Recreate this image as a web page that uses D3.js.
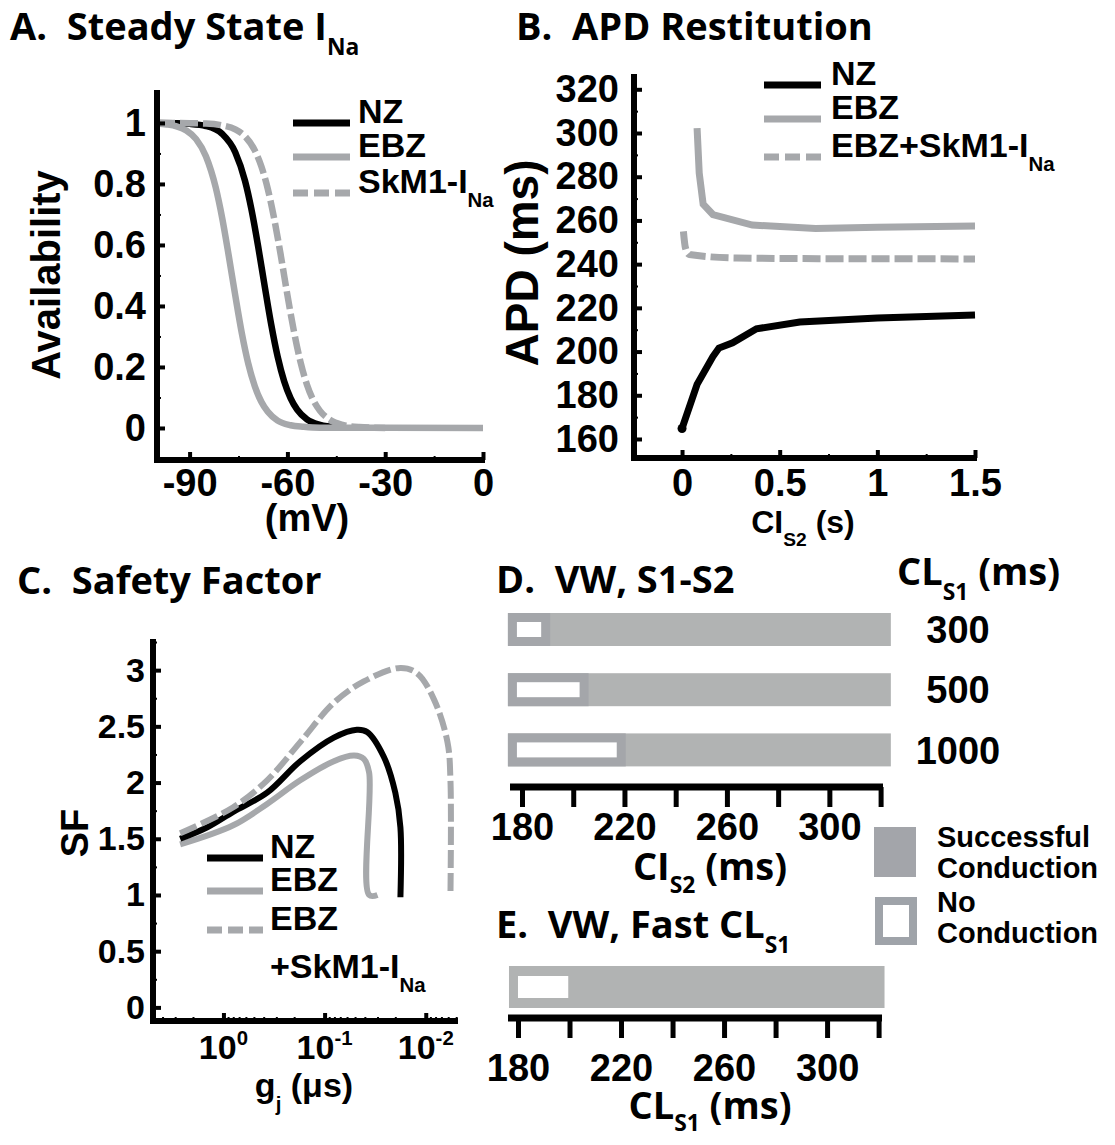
<!DOCTYPE html>
<html>
<head>
<meta charset="utf-8">
<title>SkM1-INa figure</title>
<style>
  body { margin: 0; background: #fff; }
  svg text { font-family: "Liberation Sans", Arial, sans-serif; font-weight: bold; fill: #000; }
  svg text.ttl { font-family: "Open Sans", Lato, sans-serif; font-weight: 700; white-space: pre; }
  .axis path.domain { display: none; }
  .axis line { stroke: #000; }
</style>
</head>
<body>
<svg width="1115" height="1145"></svg>
<script src="https://d3js.org/d3.v7.min.js"></script>
<script>
// ---- A. steady state I_Na availability (mV -> fraction available)
var vNZ = [-100, -95, -90, -85, -80, -76, -73, -71, -69, -67, -65, -63, -61, -59, -57, -54, -50, -45];
var availNZ = [1.0, 0.999, 0.997, 0.99, 0.964, 0.904, 0.81, 0.715, 0.597, 0.467, 0.341, 0.234, 0.153, 0.097, 0.06, 0.028, 0.01, 0.002];
var vEBZ = [-100, -97, -94, -91, -88, -85, -82, -80, -78, -76, -74, -72, -70, -68, -66, -63, -59, -55, -50, 0];
var availEBZ = [0.998, 0.995, 0.989, 0.975, 0.947, 0.891, 0.789, 0.688, 0.565, 0.435, 0.312, 0.211, 0.137, 0.086, 0.053, 0.024, 0.009, 0.004, 0.001, 0];
var vSkM = [-100, -90, -85, -80, -76, -73, -70, -68, -66, -64, -62, -60, -58, -56, -54, -52, -50, -47, -43, -38, -30];
var availSkM = [1.0, 0.999, 0.998, 0.992, 0.979, 0.956, 0.91, 0.858, 0.783, 0.683, 0.564, 0.436, 0.317, 0.217, 0.142, 0.09, 0.056, 0.027, 0.01, 0.003, 0];
var ticksAx = [-90, -60, -30, 0];
var ticksAy = [0, 0.2, 0.4, 0.6, 0.8, 1];

// ---- B. APD restitution (CI_S2 in s -> APD in ms)
var ciNZ = [0, 0.077, 0.158, 0.189, 0.259, 0.381, 0.603, 1.0, 1.5];
var apdNZ = [164.8, 185, 197.7, 201.6, 204, 210.4, 213.5, 215.4, 216.7];
var ciEBZ = [0.077, 0.088, 0.108, 0.158, 0.36, 0.684, 1.0, 1.5];
var apdEBZ = [302.2, 281.6, 267.4, 262.7, 257.9, 256.3, 256.9, 257.4];
var ciSkM = [0.007, 0.017, 0.037, 0.28, 0.7, 1.5];
var apdSkM = [255, 247.6, 244.4, 242.8, 242.5, 242.4];
var ticksBx = [0, 0.5, 1, 1.5];
var ticksBy = [160, 180, 200, 220, 240, 260, 280, 300, 320];

// ---- C. safety factor vs gap junction conductance (uS)
var gjNZ = [2.68, 1.46, 0.80, 0.37, 0.174, 0.081, 0.048, 0.038, 0.026, 0.020, 0.0178, 0.0178];
var sfNZ = [1.50, 1.60, 1.74, 1.91, 2.19, 2.40, 2.47, 2.45, 2.23, 1.91, 1.60, 0.98];
var gjEBZ = [2.68, 0.80, 0.37, 0.174, 0.081, 0.051, 0.041, 0.0363, 0.0363, 0.030];
var sfEBZ = [1.45, 1.62, 1.81, 2.02, 2.19, 2.24, 2.21, 2.09, 1.0, 1.0];
var gjSkM = [2.68, 0.80, 0.37, 0.174, 0.081, 0.041, 0.0178, 0.0121, 0.0083, 0.0061, 0.0057, 0.0057];
var sfSkM = [1.55, 1.78, 2.02, 2.36, 2.71, 2.90, 3.02, 2.97, 2.74, 2.36, 2.02, 1.0];
var ticksCx = [1, 0.1, 0.01];
var expCx = ["0", "-1", "-2"];
var ticksCy = [0, 0.5, 1, 1.5, 2, 2.5, 3];

// ---- D. VW S1-S2 (CI_S2 ms), E. fast pacing (CL_S1 ms)
var clS1 = ["300", "500", "1000"];
var ciS2Range = [174.5, 324];
var noCondEndD = [191, 206, 220.5];
var clFastRange = [176.5, 322.3];
var noCondEndE = [203];
var ticksDE = [180, 200, 220, 240, 260, 280, 300, 320];
var labelsDE = [180, 220, 260, 300];

var svg = d3.select("svg");
var GRAY = "#a6a8ab", DASH = "18,5", LDASH = "15,6";

function label(g, x, y, parts, size, cls, subk) {
  var t = g.append("text").attr("x", x).attr("y", y).style("font-size", size + "px");
  if (cls) t.attr("class", cls);
  var shift = 0;
  parts.forEach(function(p) {
    var want = p[1] === "sub" ? size * (subk || 0.4) : p[1] === "sup" ? -size * 0.42 : 0;
    var s = t.append("tspan").text(p[0]).attr("dy", want - shift);
    shift = want;
    if (p[1]) s.style("font-size", (size * 0.6) + "px");
  });
  return t;
}

function frame(g, x0, y0, y1, x1) {
  g.append("path").attr("d", "M" + x0 + "," + y0 + "V" + y1 + "H" + x1)
    .attr("fill", "none").attr("stroke", "#000").attr("stroke-width", 6)
    .attr("stroke-linejoin", "miter");
}

function series(g, xs, ys, x, y, color, dash, curve, w) {
  var pts = xs.map(function(d, i) { return [d, ys[i]]; });
  g.append("path").datum(pts)
    .attr("fill", "none").attr("stroke", color).attr("stroke-width", w || 6.5)
    .attr("stroke-dasharray", dash || null)
    .attr("d", d3.line().x(function(d) { return x(d[0]); }).y(function(d) { return y(d[1]); }).curve(curve));
}

function legend(g, x0, x1, tx, rows, size) {
  rows.forEach(function(r) {
    g.append("line").attr("x1", x0).attr("x2", x1).attr("y1", r.y).attr("y2", r.y)
      .attr("stroke", r.color).attr("stroke-width", 7).attr("stroke-dasharray", r.dash || null);
    label(g, tx, r.y, r.text, size).attr("dy", "0.35em");
  });
}

function ticks(g, axis, tr, w) {
  g.append("g").attr("class", "axis").attr("transform", tr).call(axis)
    .selectAll("line").attr("stroke-width", w);
}

// ================= A =================
var xA = d3.scaleLinear().domain([-100, 0]).range([157, 483]);
var yA = d3.scaleLinear().domain([-0.105, 1.108]).range([460, 90]);
var gA = svg.append("g");
label(gA, 10, 40, [["A.  Steady State I"], ["Na", "sub"]], 38, "ttl");
series(gA, vNZ, availNZ, xA, yA, "#000", null, d3.curveMonotoneX);
series(gA, vSkM, availSkM, xA, yA, GRAY, DASH, d3.curveMonotoneX);
series(gA, vEBZ, availEBZ, xA, yA, GRAY, null, d3.curveMonotoneX);
ticks(gA, d3.axisBottom(xA).tickValues([-75, -45, -15]).tickSize(-4).tickFormat(""), "translate(0,460)", 2);
ticks(gA, d3.axisLeft(yA).tickValues([-0.1, 0.1, 0.3, 0.5, 0.7, 0.9]).tickSize(-4).tickFormat(""), "translate(157,0)", 2);
ticks(gA, d3.axisBottom(xA).tickValues(ticksAx).tickSize(-8).tickPadding(9).tickFormat(function(d) { return d; }), "translate(0,460)", 4);
ticks(gA, d3.axisLeft(yA).tickValues(ticksAy).tickSize(-8).tickPadding(11).tickFormat(function(d) { return d; }), "translate(157,0)", 4);
gA.selectAll(".axis text").style("font-size", "38px").attr("fill", "#000");
frame(gA, 157, 90, 460, 485);
gA.append("text").attr("transform", "translate(60,275) rotate(-90)").attr("text-anchor", "middle")
  .style("font-size", "40px").text("Availability");
gA.append("text").attr("x", 307).attr("y", 531).attr("text-anchor", "middle").style("font-size", "38px").text("(mV)");
legend(gA, 293, 350, 358, [
  { y: 123, color: "#000", text: [["NZ"]] },
  { y: 157, color: GRAY, text: [["EBZ"]] },
  { y: 193, color: GRAY, dash: LDASH, text: [["SkM1-I"], ["Na", "sub"]] }
], 34);

// ================= B =================
var xB = d3.scaleLinear().domain([-0.246, 1.5]).range([634, 975]);
var yB = d3.scaleLinear().domain([151.3, 327]).range([458, 74]);
var gB = svg.append("g");
label(gB, 516, 40, [["B.  APD Restitution"]], 38, "ttl");
series(gB, ciSkM, apdSkM, xB, yB, GRAY, DASH, d3.curveMonotoneX, 7);
series(gB, ciEBZ, apdEBZ, xB, yB, GRAY, null, d3.curveLinear, 7);
series(gB, ciNZ, apdNZ, xB, yB, "#000", null, d3.curveLinear, 7);
gB.append("circle").attr("cx", xB(ciNZ[0])).attr("cy", yB(apdNZ[0])).attr("r", 4.5);
ticks(gB, d3.axisBottom(xB).tickValues([0.25, 0.75, 1.25]).tickSize(-4).tickFormat(""), "translate(0,458)", 2);
ticks(gB, d3.axisLeft(yB).tickValues([170, 190, 210, 230, 250, 270, 290, 310]).tickSize(-4).tickFormat(""), "translate(634,0)", 2);
ticks(gB, d3.axisBottom(xB).tickValues(ticksBx).tickSize(-8).tickPadding(11).tickFormat(function(d) { return d; }), "translate(0,458)", 4);
ticks(gB, d3.axisLeft(yB).tickValues(ticksBy).tickSize(-8).tickPadding(15).tickFormat(function(d) { return d; }), "translate(634,0)", 4);
gB.selectAll(".axis text").style("font-size", "38px").attr("fill", "#000");
frame(gB, 634, 74, 458, 977);
gB.append("text").attr("transform", "translate(538,263) rotate(-90)").attr("text-anchor", "middle")
  .style("font-size", "46px").text("APD (ms)");
label(gB, 803, 533, [["CI"], ["S2", "sub"], [" (s)"]], 32).attr("text-anchor", "middle");
legend(gB, 764, 821, 831, [
  { y: 85, color: "#000", text: [["NZ"]] },
  { y: 119, color: GRAY, text: [["EBZ"]] },
  { y: 157, color: GRAY, dash: LDASH, text: [["EBZ+SkM1-I"], ["Na", "sub"]] }
], 34);

// ================= C =================
var xC = d3.scaleLog().domain([4.97, 0.0048]).range([153, 458]);
var yC = d3.scaleLinear().domain([-0.121, 3.277]).range([1021, 639]);
var gC = svg.append("g");
label(gC, 17, 594, [["C.  Safety Factor"]], 38, "ttl");
var cr = d3.curveCatmullRom.alpha(0.5);
series(gC, gjEBZ, sfEBZ, xC, yC, GRAY, null, cr, 6);
series(gC, gjNZ, sfNZ, xC, yC, "#000", null, cr, 6);
series(gC, gjSkM, sfSkM, xC, yC, GRAY, DASH, cr, 6);
var minorC = [];
[0.001, 0.01, 0.1, 1].forEach(function(dec) { for (var m = 2; m <= 9; m++) minorC.push(dec * m); });
minorC = minorC.filter(function(v) { return v <= 4.97 && v >= 0.0048; });
ticks(gC, d3.axisBottom(xC).tickValues(minorC).tickSize(-4).tickFormat(""), "translate(0,1021)", 2);
ticks(gC, d3.axisLeft(yC).tickValues([0.25, 0.75, 1.25, 1.75, 2.25, 2.75, 3.25]).tickSize(-4).tickFormat(""), "translate(153,0)", 2);
ticks(gC, d3.axisBottom(xC).tickValues(ticksCx).tickSize(-8).tickFormat(""), "translate(0,1021)", 4);
ticks(gC, d3.axisLeft(yC).tickValues(ticksCy).tickSize(-8).tickPadding(8).tickFormat(function(d) { return d; }), "translate(153,0)", 4);
gC.selectAll(".axis text").style("font-size", "34px").attr("fill", "#000");
ticksCx.forEach(function(v, i) {
  label(gC, xC(v), 1059, [["10"], [expCx[i], "sup"]], 34).attr("text-anchor", "middle");
});
frame(gC, 153, 639, 1021, 458);
gC.append("text").attr("transform", "translate(88,833) rotate(-90)").attr("text-anchor", "middle")
  .style("font-size", "38px").text("SF");
label(gC, 304, 1097, [["g"], ["j", "sub"], [" (\u03bcs)"]], 34).attr("text-anchor", "middle");
legend(gC, 207, 263, 270, [
  { y: 858, color: "#000", text: [["NZ"]] },
  { y: 891, color: GRAY, text: [["EBZ"]] },
  { y: 930, color: GRAY, dash: LDASH, text: [["EBZ"]] }
], 34);
label(gC, 270, 978, [["+SkM1-I"], ["Na", "sub"]], 34);

// ================= D =================
var xD = d3.scaleLinear().domain([180, 320]).range([522, 880.6]);
var yD = d3.scaleBand().domain(clS1).range([599.4, 780]).paddingInner(0.452).paddingOuter(0.226);
var gD = svg.append("g");
label(gD, 496, 593, [["D.  VW, S1-S2"]], 38, "ttl");
label(gD, 897, 585, [["CL"], ["S1", "sub"], [" (ms)"]], 38, "ttl");
clS1.forEach(function(c, i) {
  var y0 = yD(c), h = yD.bandwidth();
  gD.append("rect").attr("x", xD(ciS2Range[0])).attr("y", y0)
    .attr("width", xD(ciS2Range[1]) - xD(ciS2Range[0])).attr("height", h).attr("fill", "#b1b3b3");
  gD.append("rect").attr("x", xD(ciS2Range[0])).attr("y", y0)
    .attr("width", xD(noCondEndD[i]) - xD(ciS2Range[0])).attr("height", h).attr("fill", "#a4a6aa");
  gD.append("rect").attr("x", xD(ciS2Range[0]) + 9).attr("y", y0 + 9)
    .attr("width", xD(noCondEndD[i]) - xD(ciS2Range[0]) - 18).attr("height", h - 18).attr("fill", "#fff");
  gD.append("text").attr("x", 958).attr("y", y0 + h / 2).attr("dy", "0.36em")
    .attr("text-anchor", "middle").style("font-size", "38px").text(c);
});
ticks(gD, d3.axisBottom(xD).tickValues(ticksDE).tickSize(20).tickPadding(6)
  .tickFormat(function(d) { return labelsDE.indexOf(d) >= 0 ? d : ""; }), "translate(0,787)", 5);
gD.selectAll(".axis text").style("font-size", "38px").attr("fill", "#000");
gD.append("line").attr("x1", 510).attr("x2", 883).attr("y1", 787).attr("y2", 787)
  .attr("stroke", "#000").attr("stroke-width", 7);
label(gD, 710, 880, [["CI"], ["S2", "sub"], [" (ms)"]], 38, "ttl", 0.34).attr("text-anchor", "middle");

// legend D/E
var gL = svg.append("g");
gL.append("rect").attr("x", 874).attr("y", 827).attr("width", 42).attr("height", 50).attr("fill", "#a3a5aa");
gL.append("rect").attr("x", 875).attr("y", 897).attr("width", 42).attr("height", 48).attr("fill", "#9fa3a9");
gL.append("rect").attr("x", 883).attr("y", 905).attr("width", 26).attr("height", 32).attr("fill", "#fff");
[["Successful", 847], ["Conduction", 878], ["No", 912], ["Conduction", 943]].forEach(function(t) {
  gL.append("text").attr("x", 937).attr("y", t[1]).style("font-size", "29px").text(t[0]);
});

// ================= E =================
var xE = d3.scaleLinear().domain([180, 320]).range([518, 878.6]);
var gE = svg.append("g");
label(gE, 496, 938, [["E.  VW, Fast CL"], ["S1", "sub"]], 38, "ttl");
gE.append("rect").attr("x", xE(clFastRange[0])).attr("y", 966)
  .attr("width", xE(clFastRange[1]) - xE(clFastRange[0])).attr("height", 42).attr("fill", "#b1b3b3");
gE.append("rect").attr("x", xE(clFastRange[0]) + 9).attr("y", 976)
  .attr("width", xE(noCondEndE[0]) - xE(clFastRange[0]) - 18).attr("height", 22).attr("fill", "#fff");
ticks(gE, d3.axisBottom(xE).tickValues(ticksDE).tickSize(20).tickPadding(16)
  .tickFormat(function(d) { return labelsDE.indexOf(d) >= 0 ? d : ""; }), "translate(0,1018)", 5);
gE.selectAll(".axis text").style("font-size", "38px").attr("fill", "#000");
gE.append("line").attr("x1", 508).attr("x2", 882).attr("y1", 1018).attr("y2", 1018)
  .attr("stroke", "#000").attr("stroke-width", 7);
label(gE, 710, 1119, [["CL"], ["S1", "sub"], [" (ms)"]], 38, "ttl", 0.32).attr("text-anchor", "middle");
</script>
</body>
</html>
